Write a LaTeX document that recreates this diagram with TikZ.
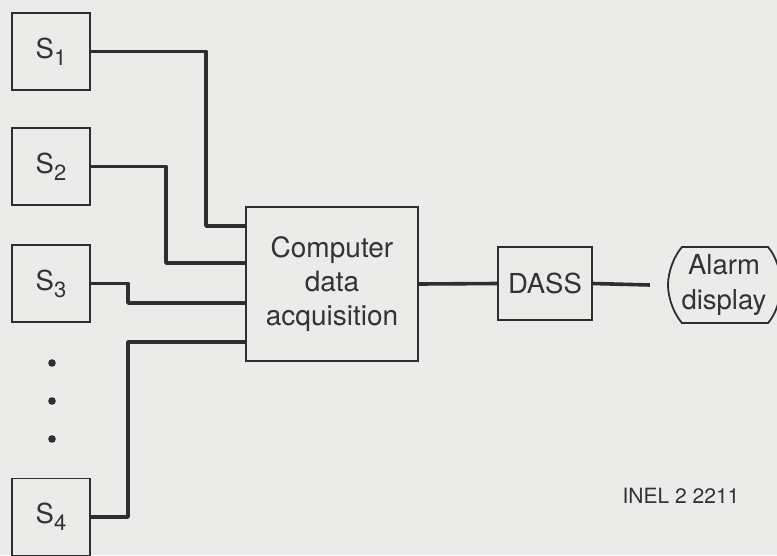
\documentclass[tikz,border=0pt]{standalone}
\usepackage{fontspec}
\setmainfont{TeX Gyre Heros}
\definecolor{bg}{HTML}{EBEBEA}
\definecolor{ink}{HTML}{2E2E2E}
\definecolor{txt}{HTML}{333333}
\newcommand{\sens}[1]{S\raisebox{-7pt}{\fontsize{22}{22}\selectfont #1}}
\begin{document}
\begin{tikzpicture}[x=1pt,y=-1pt,
  box/.style={draw=ink,line width=1.8pt,minimum width=78pt,minimum height=77pt,inner sep=0pt,
    font=\fontsize{27.5}{27.5}\selectfont,text=txt},
  conn/.style={draw=ink,line width=3.6pt,line join=round},
  lbl/.style={font=\fontsize{28}{34}\selectfont,text=txt,align=center}]
\fill[bg] (0,0) rectangle (777,555);
\useasboundingbox (0,0) rectangle (777,555);
\node[box] (s1) at (51,51.5) {\sens{1}};
\node[box] (s2) at (51,166.5) {\sens{2}};
\node[box] (s3) at (51,283.5) {\sens{3}};
\node[box] (s4) at (51,517) {\sens{4}};
\foreach \yy [count=\i] in {363,401,439} \fill[ink] (52,\yy) circle (3.8) coordinate (dot\i);
\node[box,minimum width=172pt,minimum height=154pt,lbl] (cda) at (332,284) {Computer\\data\\acquisition};
\node[box,minimum width=94pt,minimum height=73pt] (dass) at (545,283.5) {DASS};
\node[lbl,font=\fontsize{27.5}{35}\selectfont,minimum width=108pt,minimum height=76pt,inner sep=0pt] (alarm) at (724,285) {Alarm\\display};
\draw[ink,line width=1.8pt] (682,247) -- (768,247) .. controls (776,256) and (781,272) .. (781,285)
  .. controls (781,298) and (776,314) .. (768,323) -- (682,323)
  .. controls (674,314) and (668,298) .. (668,285) .. controls (668,272) and (674,256) .. (682,247) -- cycle;
\draw[conn] (s1.east) -- (s1.east -| 206,0) |- ([yshift=58pt]cda.west);
\draw[conn] (s2.east) -- (s2.east -| 166,0) |- ([yshift=21pt]cda.west);
\draw[conn] (s3.east) -- (s3.east -| 128,0) |- ([yshift=-19pt]cda.west);
\draw[conn] (s4.east) -- (s4.east -| 128,0) |- ([yshift=-58pt]cda.west);
\draw[conn] (cda.east) -- (dass.west);
\draw[conn] (dass.east) -- ([xshift=-20pt]alarm.west);
\node[font=\fontsize{21}{21}\selectfont,text=txt] (inel) at (681,496) {INEL 2 2211};
\end{tikzpicture}
\end{document}
